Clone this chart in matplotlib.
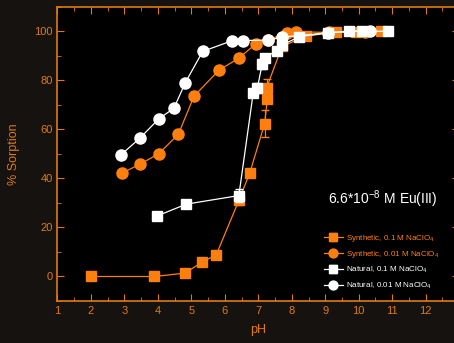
import matplotlib
matplotlib.use("Agg")
from matplotlib import pyplot as plt
from matplotlib.ticker import MultipleLocator

plt.rcParams['font.family'] = ['Liberation Sans', 'DejaVu Sans']
plt.rcParams['mathtext.fontset'] = 'custom'
plt.rcParams['mathtext.rm'] = 'Liberation Sans'
plt.rcParams['mathtext.it'] = 'Liberation Sans'

ORANGE = '#ff7f0e'
AXCOL = '#e07a10'

# Synthetic, 0.1 M NaClO4 (orange squares)
syn01_ph = [2.0, 3.9, 4.82, 5.33, 5.74, 6.42, 6.75, 7.19, 7.27, 7.25, 7.71, 8.42, 9.32, 9.93, 10.68]
syn01_y = [0, 0, 1.4, 6, 8.7, 31, 42.4, 62.3, 72.5, 77, 93.8, 98, 99.6, 99.6, 100.3]
syn01_err = [0, 0, 0, 0, 0, 2, 0, 5.5, 0, 3.5, 0, 0, 0, 0, 0]

# Synthetic, 0.01 M NaClO4 (orange circles)
syn001_ph = [2.92, 3.47, 4.02, 4.61, 5.08, 5.83, 6.42, 6.92, 7.28, 7.86, 8.13, 9.1, 10.18]
syn001_y = [42.1, 45.8, 50, 57.9, 73.5, 84.2, 89, 94.8, 96.4, 99.4, 99.8, 99.5, 99.8]

# Natural, 0.1 M NaClO4 (white squares)
nat01_ph = [3.98, 4.85, 6.42, 6.85, 6.97, 7.12, 7.2, 7.55, 7.71, 8.23, 9.09, 9.71, 10.11, 10.86]
nat01_y = [24.7, 29.5, 33, 75, 76.8, 86.7, 89.2, 92.1, 94.4, 97.8, 99.4, 100.1, 100, 100]
nat01_err = [0, 0, 2.5, 0, 2, 2, 0, 0, 0, 0, 0, 0, 0, 0]

# Natural, 0.01 M NaClO4 (white circles)
nat001_ph = [2.9, 3.47, 4.03, 4.48, 4.82, 5.34, 6.23, 6.55, 7.3, 7.72, 9.09, 10.33]
nat001_y = [49.6, 56.5, 64.3, 68.6, 79, 91.8, 96.2, 96.2, 96.4, 97.6, 99.4, 100.2]

fig = plt.figure(figsize=(4.54, 3.43), dpi=100)
fig.patch.set_facecolor('#15120f')
ax = fig.add_axes([0.1264, 0.1224, 0.885, 0.858])
ax.set_facecolor('black')

h1 = ax.errorbar(syn01_ph, syn01_y, yerr=syn01_err, color=ORANGE, marker='s', ms=7,
                 lw=0.9, capsize=3, elinewidth=0.9, zorder=3)
h2, = ax.plot(syn001_ph, syn001_y, color=ORANGE, marker='o', ms=8, lw=0.9, zorder=3)
h3 = ax.errorbar(nat01_ph, nat01_y, yerr=nat01_err, color='white', marker='s', ms=7,
                 lw=0.9, capsize=3, elinewidth=0.9, zorder=4)
h4, = ax.plot(nat001_ph, nat001_y, color='white', marker='o', ms=8, lw=0.9, zorder=4)

ax.set_xlim(1, 13)
ax.set_ylim(-10, 110)
ax.xaxis.set_major_locator(MultipleLocator(1))
ax.xaxis.set_minor_locator(MultipleLocator(0.5))
ax.yaxis.set_major_locator(MultipleLocator(20))
ax.yaxis.set_minor_locator(MultipleLocator(10))
ax.tick_params(which='both', direction='in', colors=AXCOL, top=True, right=True,
               labelsize=8)
ax.tick_params(which='major', length=5)
ax.tick_params(which='minor', length=3)
for s in ax.spines.values():
    s.set_color(AXCOL)
    s.set_linewidth(1.2)

ax.set_xlabel('pH', color=AXCOL, fontsize=9, labelpad=6)
ax.set_ylabel('% Sorption', color=AXCOL, fontsize=9, labelpad=10)

ax.text(0.81, 0.345, '6.6*10$^{-8}$ M Eu(III)', transform=ax.transAxes, color='white',
        fontsize=10, ha='center', va='center')

labels = ['Synthetic, 0.1 M NaClO$_4$', 'Synthetic, 0.01 M NaClO$_4$',
          'Natural, 0.1 M NaClO$_4$', 'Natural, 0.01 M NaClO$_4$']
leg = ax.legend([h1, h2, h3, h4], labels, loc='upper left', bbox_to_anchor=(0.645, 0.255),
                frameon=False, fontsize=5.8, handlelength=2.4, handletextpad=0.3,
                labelspacing=0.62, markerscale=0.8,
                labelcolor=[ORANGE, ORANGE, 'white', 'white'])

fig.savefig('out.png', dpi=100, facecolor=fig.get_facecolor())
